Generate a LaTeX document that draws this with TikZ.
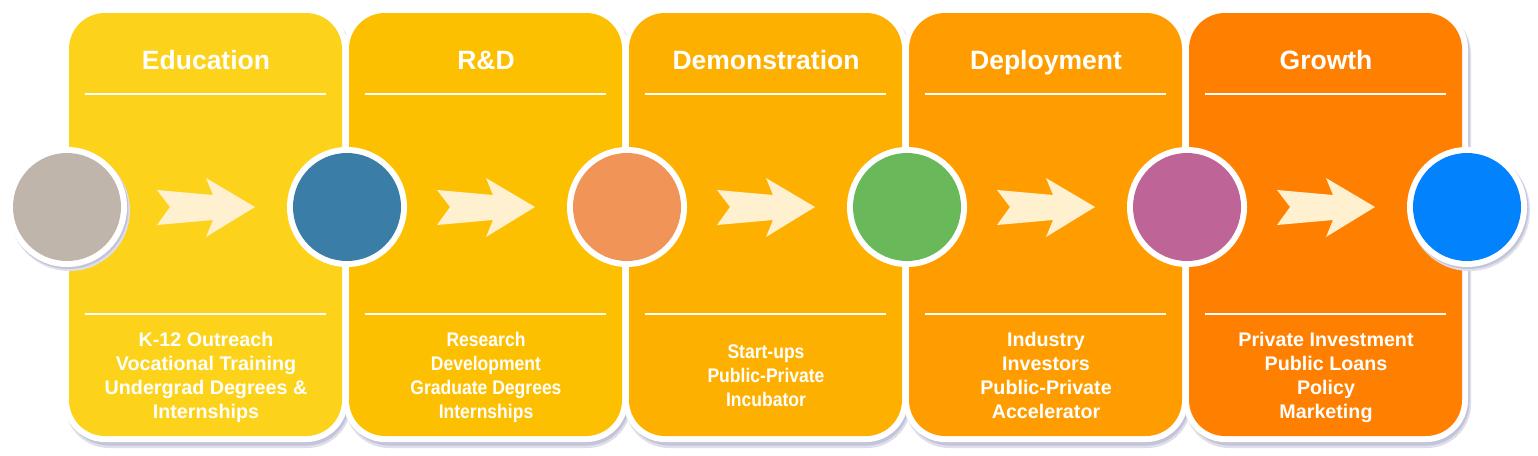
\documentclass[tikz,border=0pt]{standalone}
\usepackage{fontspec}
\usepackage{graphicx}
\setmainfont{Liberation Sans}
\definecolor{pA}{HTML}{FCD31A}
\definecolor{pB}{HTML}{FDC000}
\definecolor{pC}{HTML}{FEB000}
\definecolor{pD}{HTML}{FF9D00}
\definecolor{pE}{HTML}{FF7F00}
\definecolor{cA}{HTML}{BFB5AB}
\definecolor{cB}{HTML}{3A7EA8}
\definecolor{cC}{HTML}{F09458}
\definecolor{cD}{HTML}{69B95A}
\definecolor{cE}{HTML}{BE6496}
\definecolor{cF}{HTML}{0282FC}
\definecolor{arrowcream}{HTML}{FFF1D0}
\definecolor{shadowA}{HTML}{DEDEEC}
\definecolor{shadowB}{HTML}{C4C4D8}
\tikzset{
  titletext/.style={anchor=base, inner sep=0pt, text=white, font=\fontsize{26.5}{30}\selectfont\bfseries},
  bodytext/.style={anchor=base, inner sep=0pt, text=white, font=\fontsize{19.7}{24}\selectfont\bfseries},
  sepline/.style={draw=white, line width=1.6pt},
  chevron/.style={fill=arrowcream, draw=none},
  ringdisk/.style={circle, fill=white, minimum size=120pt, inner sep=0pt},
  stepdisk/.style={circle, minimum size=108pt, inner sep=0pt},
}
\begin{document}
\begin{tikzpicture}[x=1pt,y=-1pt]
\useasboundingbox (0,0) rectangle (1538,455);
\fill[white] (0,0) rectangle (1538,455);
% panels
\foreach \k/\col in {0/pA,1/pB,2/pC,3/pD,4/pE}{
  \pgfmathsetmacro{\L}{69+280*\k}
  \pgfmathsetmacro{\R}{\L+273}
  \fill[shadowA, rounded corners=44pt] (\L-4,10) rectangle (\R+9,448);
  \fill[shadowB, rounded corners=43pt] (\L-3,10) rectangle (\R+7.5,445.5);
  \fill[white, rounded corners=42pt] (\L-6,7) rectangle (\R+6,442);
  \fill[\col, rounded corners=36pt] (\L,13) rectangle (\R,436);
  \draw[sepline] (\L+16,94) -- (\R-16,94);
  \draw[sepline] (\L+16,314) -- (\R-16,314);
}
% titles
\node[titletext] (t1) at (206,69) {Education};
\node[titletext] (t2) at (486,69) {R\&D};
\node[titletext] (t3) at (766,69) {Demonstration};
\node[titletext] (t4) at (1046,69) {Deployment};
\node[titletext] (t5) at (1326,69) {Growth};
% body texts
\node[bodytext] (b1) at (206,346) {\begin{tabular}[t]{@{}c@{}}K-12 Outreach\\Vocational Training\\Undergrad Degrees \&\\Internships\end{tabular}};
\node[bodytext] (b2) at (486,346) {\scalebox{0.89}[1]{\begin{tabular}[t]{@{}c@{}}Research\\Development\\Graduate Degrees\\Internships\end{tabular}}};
\node[bodytext] (b3) at (766,358) {\scalebox{0.89}[1]{\begin{tabular}[t]{@{}c@{}}Start-ups\\Public-Private\\Incubator\end{tabular}}};
\node[bodytext] (b4) at (1046,346) {\begin{tabular}[t]{@{}c@{}}Industry\\Investors\\Public-Private\\Accelerator\end{tabular}};
\node[bodytext] (b5) at (1326,346) {\begin{tabular}[t]{@{}c@{}}Private Investment\\Public Loans\\Policy\\Marketing\end{tabular}};
% chevron arrows
\foreach \k in {0,...,4}{
  \pgfmathsetmacro{\c}{207+280*\k}
  \fill[chevron] (\c-50,190) -- (\c+6,195) -- (\c-1,178) -- (\c+48,207) -- (\c-1,237) -- (\c+6,220) -- (\c-50,225) -- (\c-37,207) -- cycle;
}
% faint shadows of the two outer circles (only visible on the white ground)
\fill[shadowA] (69.5,210.5) circle (60.5);
\fill[shadowB] (68.5,209) circle (60);
\fill[shadowA] (1469.5,210.5) circle (60.5);
\fill[shadowB] (1468.5,209) circle (60);
% circles
\foreach \k/\col in {0/cA,1/cB,2/cC,3/cD,4/cE,5/cF}{
  \pgfmathsetmacro{\c}{67+280*\k}
  \node[ringdisk] (r\k) at (\c,207) {};
  \node[stepdisk, fill=\col] (s\k) at (\c,207) {};
}
\end{tikzpicture}
\end{document}
